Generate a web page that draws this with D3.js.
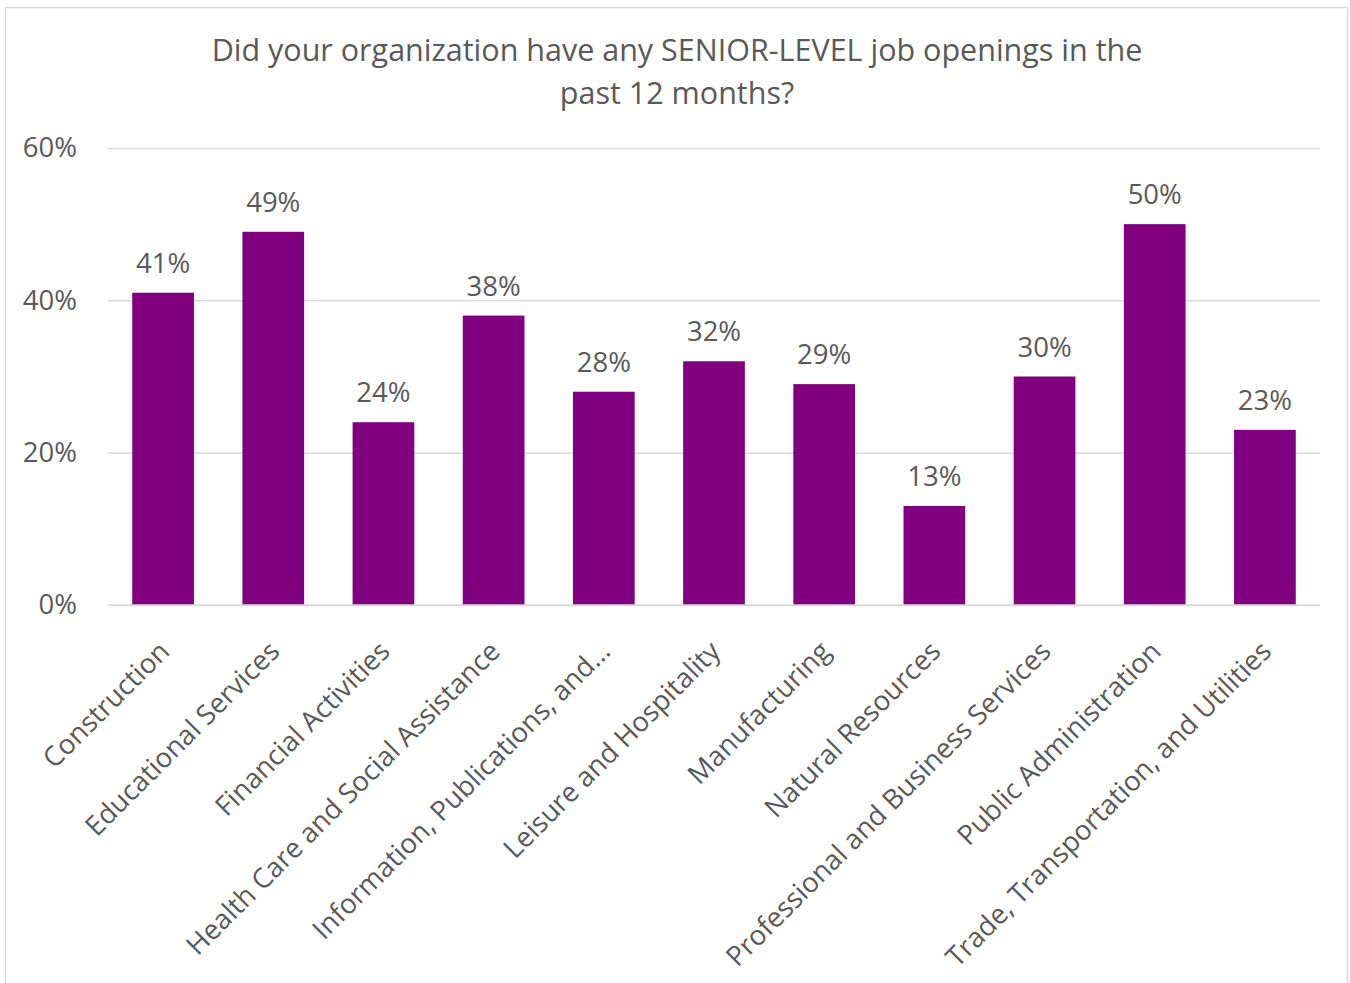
<!DOCTYPE html>
<html>
<head>
<meta charset="utf-8">
<script src="https://cdn.jsdelivr.net/npm/d3@7"></script>
<style>
  html, body { margin: 0; padding: 0; background: #fff; }
  svg text { font-family: "Open Sans", "Noto Sans", sans-serif; fill: #595959; }
</style>
</head>
<body>
<svg id="chart" width="1350" height="983"></svg>
<script>
// Survey results by industry
const categories = [
  "Construction",
  "Educational Services",
  "Financial Activities",
  "Health Care and Social Assistance",
  "Information, Publications, and…",
  "Leisure and Hospitality",
  "Manufacturing",
  "Natural Resources",
  "Professional and Business Services",
  "Public Administration",
  "Trade, Transportation, and Utilities"
];
const values = [41, 49, 24, 38, 28, 32, 29, 13, 30, 50, 23];
const yTicks = [0, 20, 40, 60];
const titleLines = [
  "Did your organization have any SENIOR-LEVEL job openings in the",
  "past 12 months?"
];

const svg = d3.select("#chart");
const plot = { left: 108, right: 1320, top: 148, bottom: 605 };
const FONT = '"Open Sans", "Noto Sans", sans-serif';

// chart frame
svg.append("rect")
  .attr("x", 5.5).attr("y", 7.5)
  .attr("width", 1342).attr("height", 990)
  .attr("fill", "#fff").attr("stroke", "#d9d9d9").attr("stroke-width", 1.5);

// title
svg.append("g").selectAll("text")
  .data(titleLines)
  .join("text")
  .attr("x", 677)
  .attr("y", (d, i) => 61 + i * 43)
  .attr("text-anchor", "middle")
  .style("font-size", "30.5px")
  .text(d => d);

const x = d3.scaleBand()
  .domain(categories)
  .range([plot.left, plot.right])
  .paddingInner(0.44)
  .paddingOuter(0.22);

const y = d3.scaleLinear()
  .domain([0, 60])
  .range([plot.bottom, plot.top]);

// gridlines
const grid = svg.append("g")
  .attr("transform", `translate(${plot.left},0)`)
  .call(d3.axisLeft(y).tickValues(yTicks).tickSize(-(plot.right - plot.left)).tickFormat(""));
grid.select(".domain").remove();
grid.selectAll(".tick line").attr("stroke", "#d9d9d9").attr("stroke-width", 1.5);

// y-axis labels
const yAxis = svg.append("g")
  .attr("transform", `translate(${plot.left - 31},0)`)
  .call(d3.axisLeft(y).tickValues(yTicks).tickSize(0).tickPadding(0).tickFormat(d => d + "%"));
yAxis.select(".domain").remove();
yAxis.selectAll("text")
  .style("font-size", "27.5px")
  .style("font-family", FONT)
  .attr("fill", "#595959");

const rows = categories.map((c, i) => ({ c, v: values[i] }));

// bars
svg.append("g").selectAll("rect")
  .data(rows)
  .join("rect")
  .attr("x", d => x(d.c))
  .attr("y", d => y(d.v))
  .attr("width", x.bandwidth())
  .attr("height", d => y(0) - y(d.v))
  .attr("fill", "#800080");

// value labels
svg.append("g").selectAll("text")
  .data(rows)
  .join("text")
  .attr("x", d => x(d.c) + x.bandwidth() / 2)
  .attr("y", d => y(d.v) - 20)
  .attr("text-anchor", "middle")
  .style("font-size", "27.5px")
  .text(d => d.v + "%");

// category axis with rotated labels
const xAxis = svg.append("g")
  .attr("transform", `translate(0,${plot.bottom})`)
  .call(d3.axisBottom(x).tickSize(0).tickPadding(0));
xAxis.select(".domain").attr("stroke", "#d9d9d9").attr("stroke-width", 1.5)
  .attr("d", `M${plot.left},0H${plot.right}`);
xAxis.selectAll(".tick text")
  .attr("fill", "#595959")
  .style("font-size", "27.5px")
  .style("font-family", FONT)
  .attr("text-anchor", "end")
  .attr("dy", "0")
  .attr("transform", "translate(8,48) rotate(-45)");
</script>
</body>
</html>
